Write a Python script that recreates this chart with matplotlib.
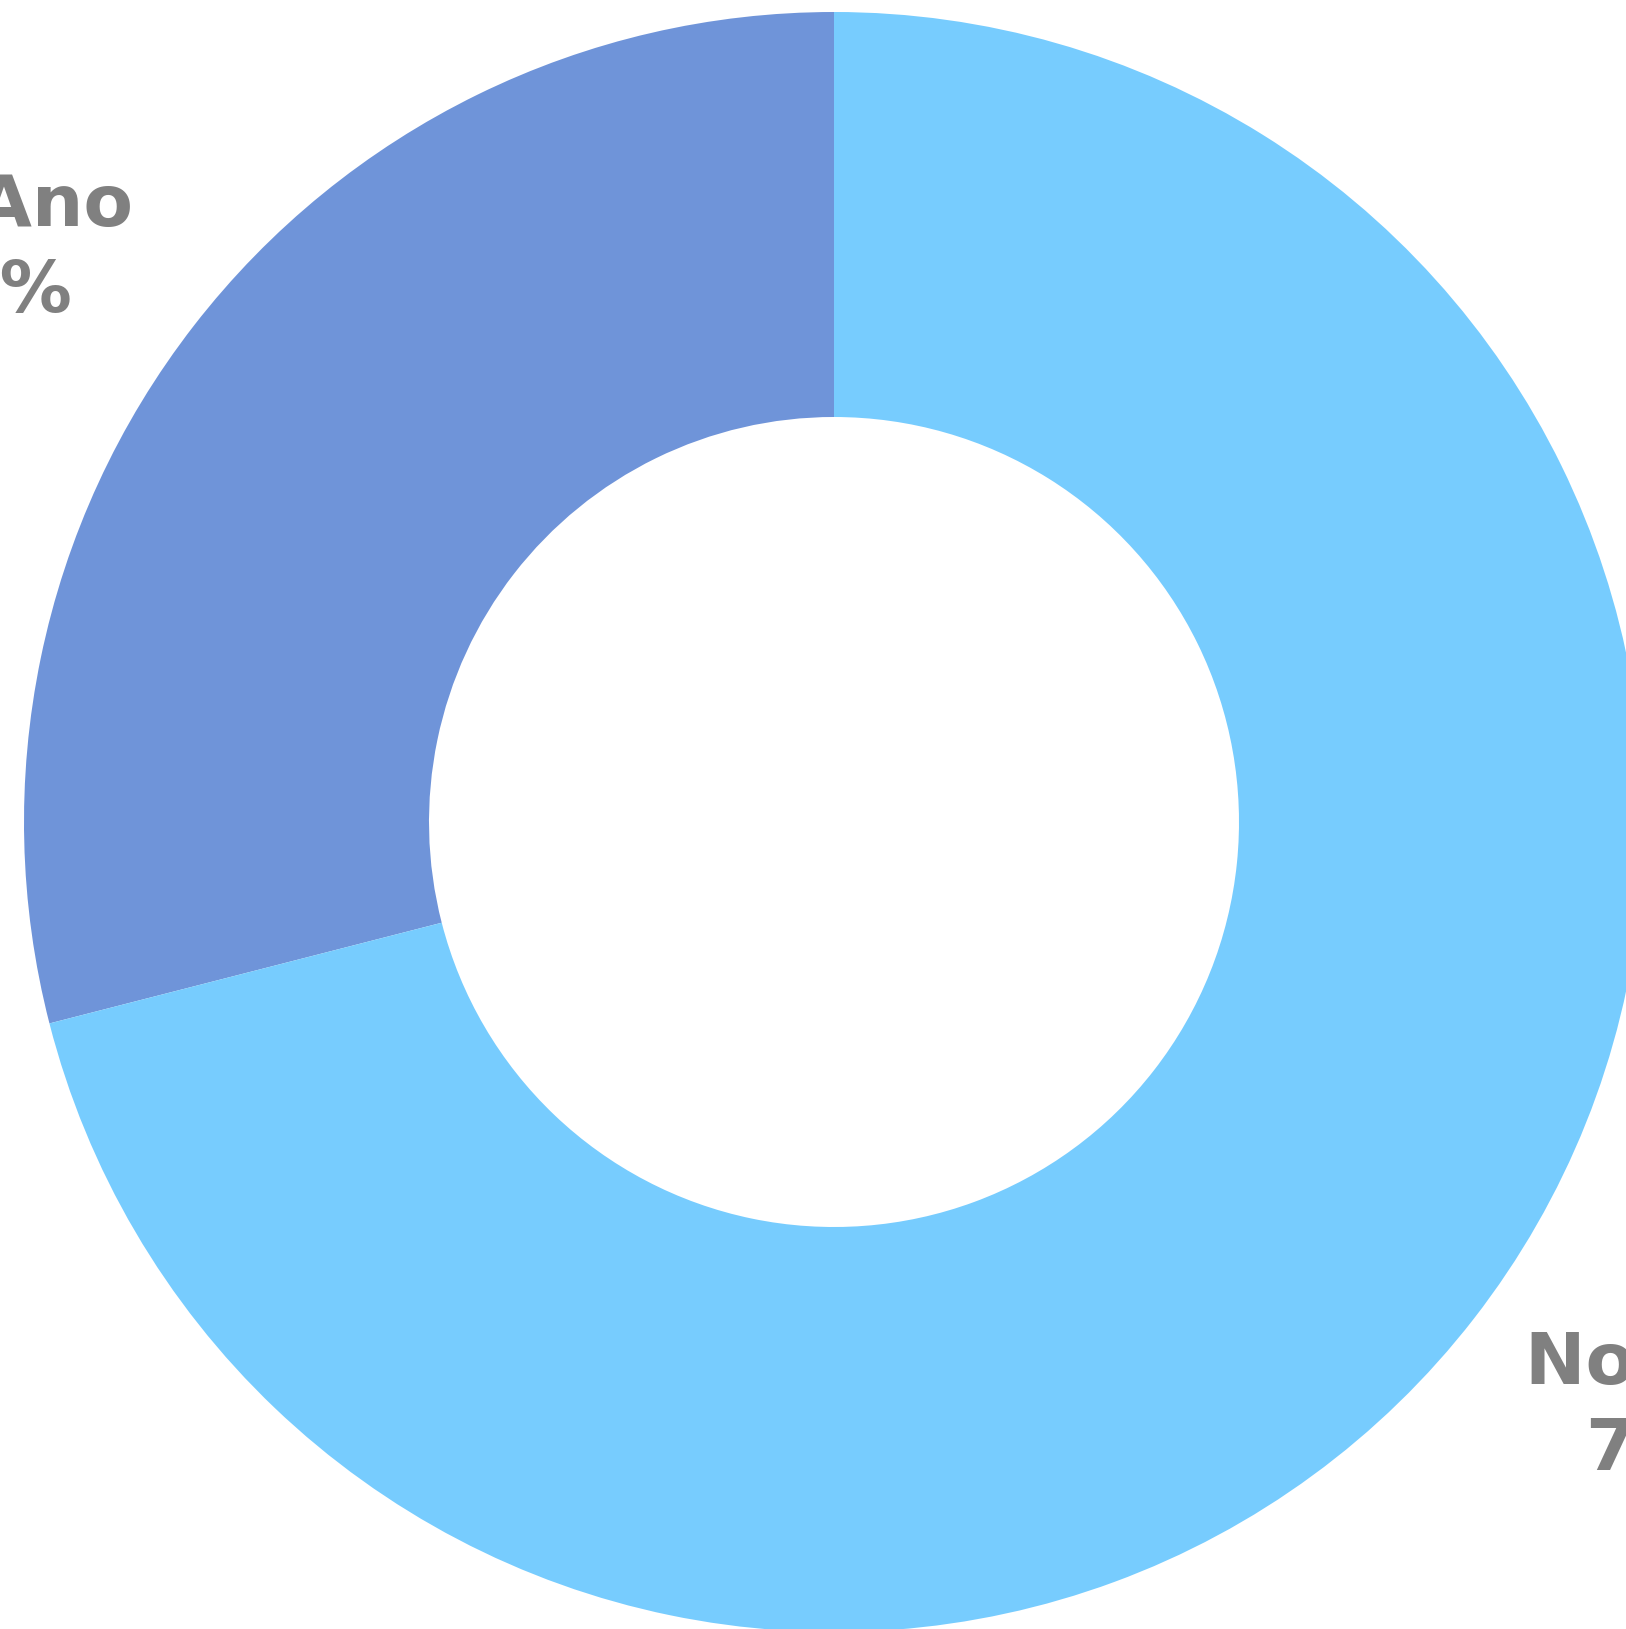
import numpy as np
import matplotlib
matplotlib.use("Agg")
import matplotlib.pyplot as plt

labels = ["+1 Ano", "No Ano"]
values = [29, 71]
colors = ["#6F94D9", "#77CCFE"]

W, H, DPI = 1626, 1629, 100
fig = plt.figure(figsize=(W / DPI, H / DPI), dpi=DPI)
ax = fig.add_axes([0, 0, 1, 1])
ax.axis("off")

wedges, _ = ax.pie(values, colors=colors, startangle=90, counterclock=True,
                   radius=1.0, wedgeprops=dict(width=0.5, linewidth=0))

# view window: pie centre at pixel (834, 822), radius 810 px
R = 810.0
cx, cy = 834.0, 822.0
ax.set_xlim(-cx / R, (W - cx) / R)
ax.set_ylim(-(H - cy) / R, cy / R)
ax.set_aspect("auto")

total = sum(values)
rx, ry = 1.04 / 0.790, 0.715 / 0.613
dx, dy = -0.0065, -0.008
for w, lab, v in zip(wedges, labels, values):
    mid = np.deg2rad((w.theta1 + w.theta2) / 2)
    ax.text(rx * np.cos(mid) + dx, ry * np.sin(mid) + dy,
            f"{lab}\n{v / total * 100:.0f}%",
            ha="center", va="center", multialignment="center",
            fontsize=52, fontweight="bold", color="#808080", linespacing=1.3)

fig.savefig("out.png", dpi=DPI)
